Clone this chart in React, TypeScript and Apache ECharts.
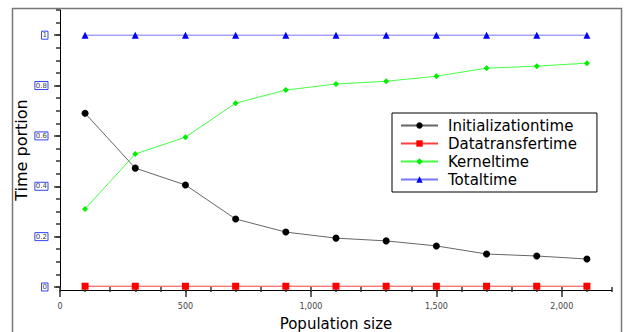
import React, { useEffect, useRef } from "react";
import * as echarts from "echarts";

const populationSizes = [100, 300, 500, 700, 900, 1100, 1300, 1500, 1700, 1900, 2100];
const initializationTime = [0.69, 0.472, 0.405, 0.27, 0.218, 0.194, 0.183, 0.163, 0.131, 0.123, 0.111];
const dataTransferTime = [0.003, 0.003, 0.003, 0.003, 0.003, 0.003, 0.003, 0.003, 0.003, 0.003, 0.003];
const kernelTime = [0.31, 0.528, 0.595, 0.73, 0.782, 0.806, 0.817, 0.837, 0.869, 0.877, 0.889];
const totalTime = [1, 1, 1, 1, 1, 1, 1, 1, 1, 1, 1];
const yLabelValues = [0, 0.2, 0.4, 0.6, 0.8, 1];
const yMinorValues = [0, 0.05, 0.1, 0.15, 0.2, 0.25, 0.3, 0.35, 0.4, 0.45, 0.5, 0.55, 0.6, 0.65, 0.7, 0.75, 0.8, 0.85, 0.9, 0.95, 1, 1.05, 1.1];
const xLabelValues = [0, 500, 1000, 1500, 2000];
const xMinorValues = [0, 100, 200, 300, 400, 500, 600, 700, 800, 900, 1000, 1100, 1200, 1300, 1400, 1500, 1600, 1700, 1800, 1900, 2000, 2100, 2200];

const FONT = "DejaVu Sans";

export default function App() {
  const ref = useRef<HTMLDivElement>(null);
  useEffect(() => {
    if (!ref.current) return;
    const chart = echarts.init(ref.current, null, { renderer: "svg" });
    const pts = (ys: number[]) => populationSizes.map((x, i) => [x, ys[i]]);
    const yMin = -0.012;
    const yMax = 1.1;
    chart.setOption({
      animation: false,
      backgroundColor: "#fff",
      textStyle: { fontFamily: FONT },
      graphic: [
        {
          type: "rect",
          shape: { x: 12.5, y: 8.5, width: 609, height: 340 },
          style: { fill: "none", stroke: "#777", lineWidth: 1.5 },
          silent: true,
          z: -10,
        },
      ],
      grid: { left: 60, right: 13, top: 10, bottom: 42, outerBoundsMode: "none", containLabel: false },
      legend: {
        orient: "vertical",
        left: 392,
        top: 113,
        backgroundColor: "#fff",
        borderColor: "#000",
        borderWidth: 1,
        padding: [5, 20, 5, 8],
        itemGap: 3,
        itemWidth: 37,
        itemHeight: 8,
        textStyle: { fontFamily: FONT, fontSize: 15, color: "#000", padding: [0, 0, 0, 5] },
        data: ["Initializationtime", "Datatransfertime", "Kerneltime", "Totaltime"],
      },
      xAxis: [
        {
          type: "value",
          min: 0,
          max: 2200,
          name: "Population size",
          nameLocation: "middle",
          nameGap: 26,
          nameMoveOverlap: false,
          nameTextStyle: { fontFamily: FONT, fontSize: 15, color: "#000" },
          axisLine: { show: true, onZero: false, lineStyle: { color: "#000", width: 1 } },
          axisTick: { show: true, customValues: xLabelValues, length: 7, lineStyle: { color: "#333", width: 1.5 } },
          axisLabel: {
            customValues: xLabelValues,
            fontSize: 8,
            color: "#444",
            margin: 12,
            formatter: (v: number) => v.toLocaleString("en-US"),
          },
          splitLine: { show: false },
        },
        {
          type: "value",
          min: 0,
          max: 2200,
          position: "bottom",
          axisLine: { show: false },
          axisTick: { show: true, customValues: xMinorValues, length: 5, lineStyle: { color: "#333", width: 1.5 } },
          axisLabel: { show: false },
          splitLine: { show: false },
        },
      ],
      yAxis: [
        {
          type: "value",
          min: yMin,
          max: yMax,
          name: "Time portion",
          nameLocation: "middle",
          nameGap: 31,
          nameMoveOverlap: false,
          nameTextStyle: { fontFamily: FONT, fontSize: 16, color: "#000" },
          axisLine: { show: true, onZero: false, lineStyle: { color: "#000", width: 1 } },
          axisTick: { show: true, customValues: yLabelValues, length: 6, lineStyle: { color: "#333", width: 1.5 } },
          axisLabel: {
            customValues: yLabelValues,
            fontSize: 7,
            color: "#444",
            margin: 12,
            borderColor: "#3344ff",
            borderWidth: 1,
            padding: [1, 1, 0, 1],
          },
          splitLine: { show: false },
        },
        {
          type: "value",
          min: yMin,
          max: yMax,
          position: "left",
          axisLine: { show: false },
          axisTick: { show: true, customValues: yMinorValues, length: 4, lineStyle: { color: "#333", width: 1.5 } },
          axisLabel: { show: false },
          splitLine: { show: false },
        },
      ],
      series: [
        {
          name: "Initializationtime",
          type: "line",
          data: pts(initializationTime),
          symbol: "circle",
          symbolSize: 7,
          itemStyle: { color: "#000" },
          lineStyle: { color: "#666", width: 1 },
        },
        {
          name: "Datatransfertime",
          type: "line",
          data: pts(dataTransferTime),
          symbol: "rect",
          symbolSize: 7,
          itemStyle: { color: "#ff0000" },
          lineStyle: { color: "#ff4040", width: 1 },
        },
        {
          name: "Kerneltime",
          type: "line",
          data: pts(kernelTime),
          symbol: "diamond",
          symbolSize: 6,
          itemStyle: { color: "#00ee00" },
          lineStyle: { color: "#44ff44", width: 1 },
        },
        {
          name: "Totaltime",
          type: "line",
          data: pts(totalTime),
          symbol: "triangle",
          symbolSize: 7,
          itemStyle: { color: "#0000ff" },
          lineStyle: { color: "#7777ff", width: 1 },
        },
      ],
    });
    return () => chart.dispose();
  }, []);
  return (
    <div
      ref={ref}
      style={{ position: "fixed", left: 0, top: 0, width: 625, height: 332 }}
    />
  );
}
